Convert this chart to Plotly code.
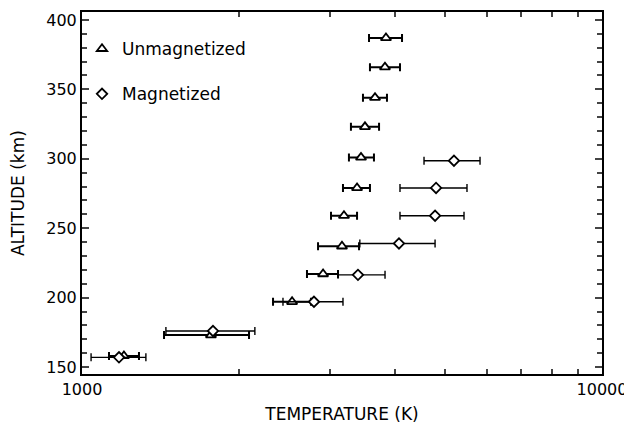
import plotly.graph_objects as go

# Unmagnetized (triangles)
unmag_alt = [387, 366, 344, 323, 301, 279, 259, 237, 217, 197, 173, 158]
unmag_T = [3842, 3825, 3660, 3501, 3440, 3380, 3190, 3162, 2908, 2535, 1770, 1204]
unmag_lo = [3564, 3579, 3470, 3290, 3261, 3176, 3012, 2844, 2708, 2330, 1438, 1127]
unmag_hi = [4125, 4088, 3859, 3726, 3643, 3579, 3380, 3410, 3107, 2756, 2095, 1287]

# Magnetized (diamonds)
mag_alt = [298.6, 279, 259, 239, 216.4, 197, 176, 157]
mag_T = [5192, 4796, 4775, 4070, 3394, 2793, 1786, 1178]
mag_lo = [4547, 4088, 4088, 3422, 3107, 2435, 1450, 1041]
mag_hi = [5827, 5500, 5428, 4775, 3826, 3176, 2150, 1327]

x_ticks = [1000, 10000]
x_ticklabels = ["1000", "10000"]
y_ticks = [150, 200, 250, 300, 350, 400]

FONT = "DejaVu Sans"

fig = go.Figure()
fig.add_trace(go.Scatter(
    x=unmag_T, y=unmag_alt, mode="markers", name="Unmagnetized",
    legendgroup="u",
    marker=dict(symbol="triangle-up", size=9, color="white",
                line=dict(width=1.8, color="black")),
    error_x=dict(type="data", symmetric=False,
                 array=[h - t for h, t in zip(unmag_hi, unmag_T)],
                 arrayminus=[t - l for t, l in zip(unmag_T, unmag_lo)],
                 color="black", thickness=2, width=4),
))
fig.add_trace(go.Scatter(
    x=mag_T, y=mag_alt, mode="markers", name="Magnetized",
    legendgroup="m",
    marker=dict(symbol="diamond", size=8, color="white",
                line=dict(width=1.8, color="black")),
    error_x=dict(type="data", symmetric=False,
                 array=[h - t for h, t in zip(mag_hi, mag_T)],
                 arrayminus=[t - l for t, l in zip(mag_T, mag_lo)],
                 color="black", thickness=1.4, width=4),
))

fig.update_layout(
    width=632, height=426,
    margin=dict(l=74, r=38, t=2, b=60),
    paper_bgcolor="white", plot_bgcolor="white",
    font=dict(family=FONT, size=17, color="black"),
    showlegend=True,
    legend=dict(x=0.0, y=0.947, xanchor="left", yanchor="top",
                bgcolor="rgba(0,0,0,0)", tracegroupgap=20,
                font=dict(size=17)),
    annotations=[dict(
        text="ALTITUDE (km)", textangle=-90, showarrow=False,
        xref="paper", yref="paper", x=-0.123, y=0.5,
        xanchor="center", yanchor="middle", font=dict(size=17),
    )],
)
fig.update_xaxes(
    type="log", range=[3, 4],
    tickvals=x_ticks, ticktext=x_ticklabels,
    ticks="inside", ticklen=7, tickwidth=1.5,
    minor=dict(ticks="inside", ticklen=5, tickwidth=1.5, dtick="D1", showgrid=False),
    showline=True, linecolor="black", linewidth=2, mirror="ticks",
    showgrid=False, zeroline=False,
    title=dict(text="TEMPERATURE (K)", standoff=10, font=dict(size=17)),
    tickfont=dict(size=16),
)
fig.update_yaxes(
    range=[145, 405.7],
    tickvals=y_ticks,
    ticks="inside", ticklen=7, tickwidth=1.5,
    minor=dict(ticks="inside", ticklen=5, tickwidth=1.5, dtick=10, showgrid=False),
    showline=True, linecolor="black", linewidth=2, mirror="ticks",
    showgrid=False, zeroline=False,
    tickfont=dict(size=16),
)

fig.write_html("out.html")
